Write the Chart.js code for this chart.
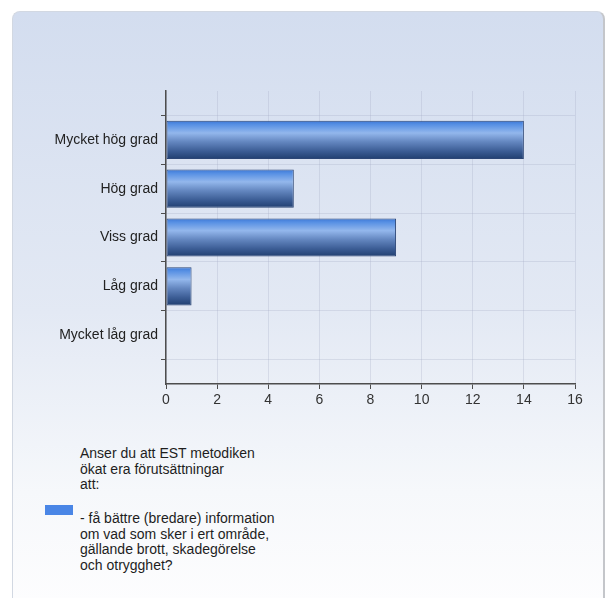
<!DOCTYPE html>
<html>
<head>
<meta charset="utf-8">
<script src="https://cdn.jsdelivr.net/npm/chart.js@4/dist/chart.umd.min.js"></script>
<style>
  html, body { margin: 0; padding: 0; background: #fff; }
  body { width: 609px; height: 598px; position: relative; overflow: hidden; font-family: "Liberation Sans", Arial, sans-serif; }
  #panel {
    position: absolute; left: 12px; top: 11px; width: 590px; height: 620px;
    border: 1px solid #d2d8e2; border-right: 2px solid #c4c6ca; border-radius: 8px;
    background: linear-gradient(to bottom, #d3ddef 0px, #e3e9f4 300px, #f6f8fb 480px, #fdfdfe 590px);
  }
  #chart { position: absolute; left: 0; top: 0; }
  #legend { position: absolute; left: 0; top: 0; font-size: 14px; line-height: 15.5px; color: #1e1e1e; }
  #legend .title { position: absolute; left: 80px; top: 446px; width: 240px; }
  #legend .box { position: absolute; left: 45px; top: 505px; width: 28px; height: 10px; background: #4a86e6; }
  #legend .item { position: absolute; left: 80px; top: 511px; width: 240px; }
</style>
</head>
<body>
<div id="panel"></div>
<canvas id="chart" width="609" height="420"></canvas>
<div id="legend">
  <div class="title">Anser du att EST metodiken<br>ökat era förutsättningar<br>att:</div>
  <div class="box"></div>
  <div class="item">- få bättre (bredare) information<br>om vad som sker i ert område,<br>gällande brott, skadegörelse<br>och otrygghet?</div>
</div>
<script>
// svarsalternativ och antal svar
var kategorier = ['Mycket hög grad', 'Hög grad', 'Viss grad', 'Låg grad', 'Mycket låg grad'];
var antal = [14, 5, 9, 1, 0];
var xTicks = [0, 2, 4, 6, 8, 10, 12, 14, 16];

// tomma platser över och under så att staplarna hamnar som i originalet
var etiketter = [''].concat(kategorier, ['']);
var varden = [null].concat(antal, [null]);

var barPct = 0.78;

function stapelFarg(ctx) {
    var chart = ctx.chart;
    var area = chart.chartArea;
    if (!area || ctx.dataIndex === undefined) return '#4a86e6';
    var y = chart.scales.y.getPixelForValue(ctx.dataIndex);
    var h = (area.bottom - area.top) / (etiketter.length - 1) * barPct / 2;
    var g = chart.ctx.createLinearGradient(0, y - h, 0, y + h);
    g.addColorStop(0, '#3d78d6');
    g.addColorStop(0.1, '#5790e4');
    g.addColorStop(0.32, '#93b7ec');
    g.addColorStop(0.55, '#6487c0');
    g.addColorStop(0.8, '#3b5c94');
    g.addColorStop(1, '#213f70');
    return g;
}

var axisColor = '#4d4d4d';
var gridColor = 'rgba(160,170,195,0.28)';

new Chart(document.getElementById('chart'), {
    type: 'bar',
    data: {
        labels: etiketter,
        datasets: [{
            data: varden,
            backgroundColor: stapelFarg,
            borderColor: '#2c4676',
            borderWidth: 1,
            borderSkipped: false,
            categoryPercentage: 1,
            barPercentage: barPct
        }]
    },
    options: {
        indexAxis: 'y',
        responsive: false,
        animation: false,
        layout: { padding: { top: 91, right: 34, left: 0, bottom: 0 } },
        plugins: { legend: { display: false }, tooltip: { enabled: false } },
        scales: {
            x: {
                min: 0,
                max: 16,
                afterBuildTicks: function (scale) {
                    scale.ticks = xTicks.map(function (v) { return { value: v }; });
                },
                afterFit: function (scale) { scale.height = 36; },
                grid: { color: gridColor, tickColor: axisColor, tickLength: 5 },
                border: { color: axisColor, width: 1.5 },
                ticks: { color: '#333', padding: 3, font: { family: 'Liberation Sans', size: 14 } }
            },
            y: {
                type: 'category',
                offset: false,
                afterFit: function (scale) { scale.width = 166; },
                grid: { color: gridColor, tickColor: axisColor, tickLength: 5 },
                border: { color: axisColor, width: 1.5 },
                ticks: { color: '#222', padding: 3, autoSkip: false, font: { family: 'Liberation Sans', size: 14 } }
            }
        }
    }
});
</script>
</body>
</html>
